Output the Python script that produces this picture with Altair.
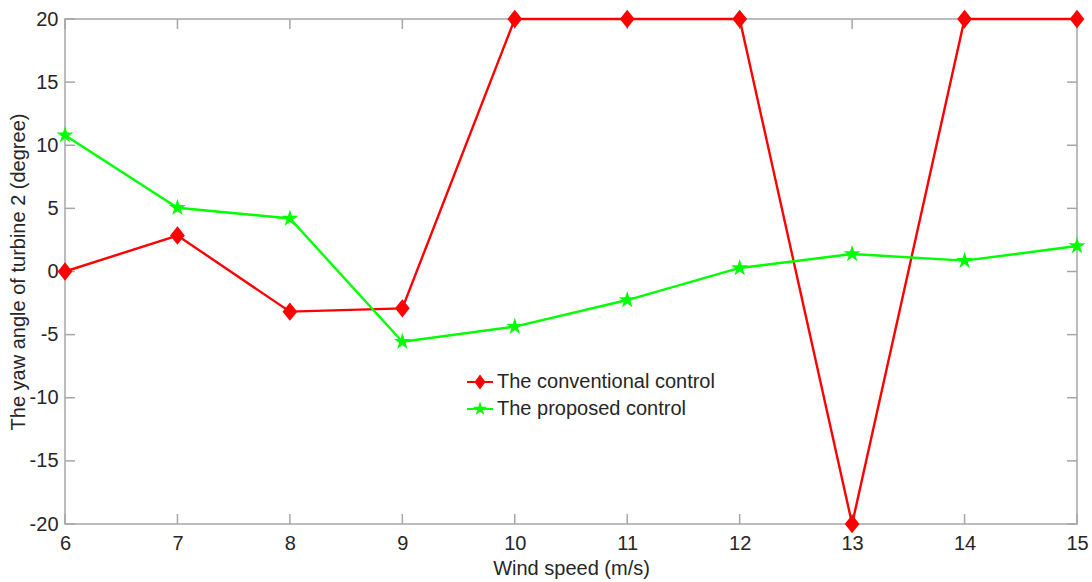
import altair as alt
import pandas as pd

# Wind speed (m/s) and yaw angle of turbine 2 (degree) for each strategy
wind_speed = [6, 7, 8, 9, 10, 11, 12, 13, 14, 15]
conventional = [0.0, 2.85, -3.18, -2.92, 20.0, 20.0, 20.0, -20.0, 20.0, 20.0]
proposed = [10.8, 5.05, 4.2, -5.56, -4.37, -2.26, 0.28, 1.39, 0.86, 2.02]

series_names = ["The conventional control", "The proposed control"]
series_colors = ["#ff0000", "#00ff00"]

x_ticks = [6, 7, 8, 9, 10, 11, 12, 13, 14, 15]
y_ticks = [-20, -15, -10, -5, 0, 5, 10, 15, 20]

W, H = 1012, 505
FONT = "Liberation Sans"
FS = 20
TEXT = "#262626"
FRAME = "#a6a6a6"

# marker shapes (vega custom symbol paths)
DIAMOND = "M0,-1L0.8,0L0,1L-0.8,0Z"
STAR = ("M0,-1L0.2245,-0.309L0.951,-0.309L0.363,0.118L0.588,0.809L0,0.382"
        "L-0.588,0.809L-0.363,0.118L-0.951,-0.309L-0.2245,-0.309Z")
# legend glyphs: short line segment with the marker in the middle
LEG_DIAMOND = "M-2,-0.14H2V0.14H-2Z" + "M0,-1.15L0.85,0L0,1.15L-0.85,0Z"
LEG_STAR = ("M-2,-0.14H2V0.14H-2Z"
            "M0,-1.15L0.258,-0.355L1.094,-0.355L0.417,0.136L0.676,0.93L0,0.44"
            "L-0.676,0.93L-0.417,0.136L-1.094,-0.355L-0.258,-0.355Z")

conv_df = pd.DataFrame({"speed": wind_speed, "angle": conventional, "series": series_names[0]})
prop_df = pd.DataFrame({"speed": wind_speed, "angle": proposed, "series": series_names[1]})
all_df = pd.concat([conv_df, prop_df], ignore_index=True)
xt_df = pd.DataFrame({"speed": x_ticks})
yt_df = pd.DataFrame({"angle": y_ticks})

x_scale = alt.Scale(domain=[6, 15], nice=False, zero=False)
y_scale = alt.Scale(domain=[-20, 20], nice=False, zero=False)

x_axis = alt.Axis(values=x_ticks, ticks=False, domain=False, grid=False,
                  labelExpr="toString(datum.value)", labelFlush=False,
                  labelFont=FONT, labelFontSize=FS, labelColor=TEXT, labelPadding=9,
                  title="Wind speed (m/s)", titleFont=FONT, titleFontSize=FS,
                  titleFontWeight="normal", titleColor=TEXT, titlePadding=5)
y_axis = alt.Axis(values=y_ticks, ticks=False, domain=False, grid=False,
                  labelExpr="toString(datum.value)", labelFlush=False,
                  labelFont=FONT, labelFontSize=FS, labelColor=TEXT, labelPadding=7,
                  title="The yaw angle of turbine 2 (degree)", titleFont=FONT,
                  titleFontSize=FS, titleFontWeight="normal", titleColor=TEXT,
                  titlePadding=1)

X = alt.X("speed:Q", scale=x_scale, axis=x_axis)
Y = alt.Y("angle:Q", scale=y_scale, axis=y_axis)

# inward ticks on all four sides of the box
tick_style = dict(color=FRAME, strokeWidth=1.5)
ticks_bottom = alt.Chart(xt_df).mark_rule(**tick_style).encode(
    x=X, y=alt.value(H), y2=alt.value(H - 10))
ticks_top = alt.Chart(xt_df).mark_rule(**tick_style).encode(
    x=X, y=alt.value(0), y2=alt.value(10))
ticks_left = alt.Chart(yt_df).mark_rule(**tick_style).encode(
    y=Y, x=alt.value(0), x2=alt.value(10))
ticks_right = alt.Chart(yt_df).mark_rule(**tick_style).encode(
    y=Y, x=alt.value(W), x2=alt.value(W - 10))

conv_line = alt.Chart(conv_df).mark_line(color=series_colors[0], strokeWidth=2.4).encode(x=X, y=Y)
conv_pts = alt.Chart(conv_df).mark_point(
    shape=DIAMOND, filled=True, color=series_colors[0], opacity=1, size=340).encode(x=X, y=Y)
prop_line = alt.Chart(prop_df).mark_line(color=series_colors[1], strokeWidth=2.4).encode(x=X, y=Y)
prop_pts = alt.Chart(prop_df).mark_point(
    shape=STAR, filled=True, color=series_colors[1], opacity=1, size=320).encode(x=X, y=Y)

legend_def = alt.Legend(orient="none", legendX=405, legendY=353, title=None,
                        labelFont=FONT, labelFontSize=FS, labelColor=TEXT, labelLimit=500,
                        labelOffset=7, symbolSize=169, symbolOpacity=1,
                        symbolStrokeWidth=0, rowPadding=7)

# invisible layer that only supplies the legend
legend_layer = alt.Chart(all_df).mark_point(filled=True, opacity=0).encode(
    x=X, y=Y,
    color=alt.Color("series:N", scale=alt.Scale(domain=series_names, range=series_colors),
                    legend=legend_def),
    shape=alt.Shape("series:N", scale=alt.Scale(domain=series_names,
                                                range=[LEG_DIAMOND, LEG_STAR]),
                    legend=legend_def),
)

chart = alt.layer(
    ticks_bottom, ticks_top, ticks_left, ticks_right,
    conv_line, conv_pts, prop_line, prop_pts, legend_layer,
).properties(
    width=W, height=H,
    autosize=alt.AutoSizeParams(type="none"),
    padding={"left": 65, "top": 19, "right": 15, "bottom": 58},
    background="white",
).configure_view(stroke=FRAME, strokeWidth=1.5)

chart.save("out.html", embed_options={"renderer": "svg", "actions": False})
